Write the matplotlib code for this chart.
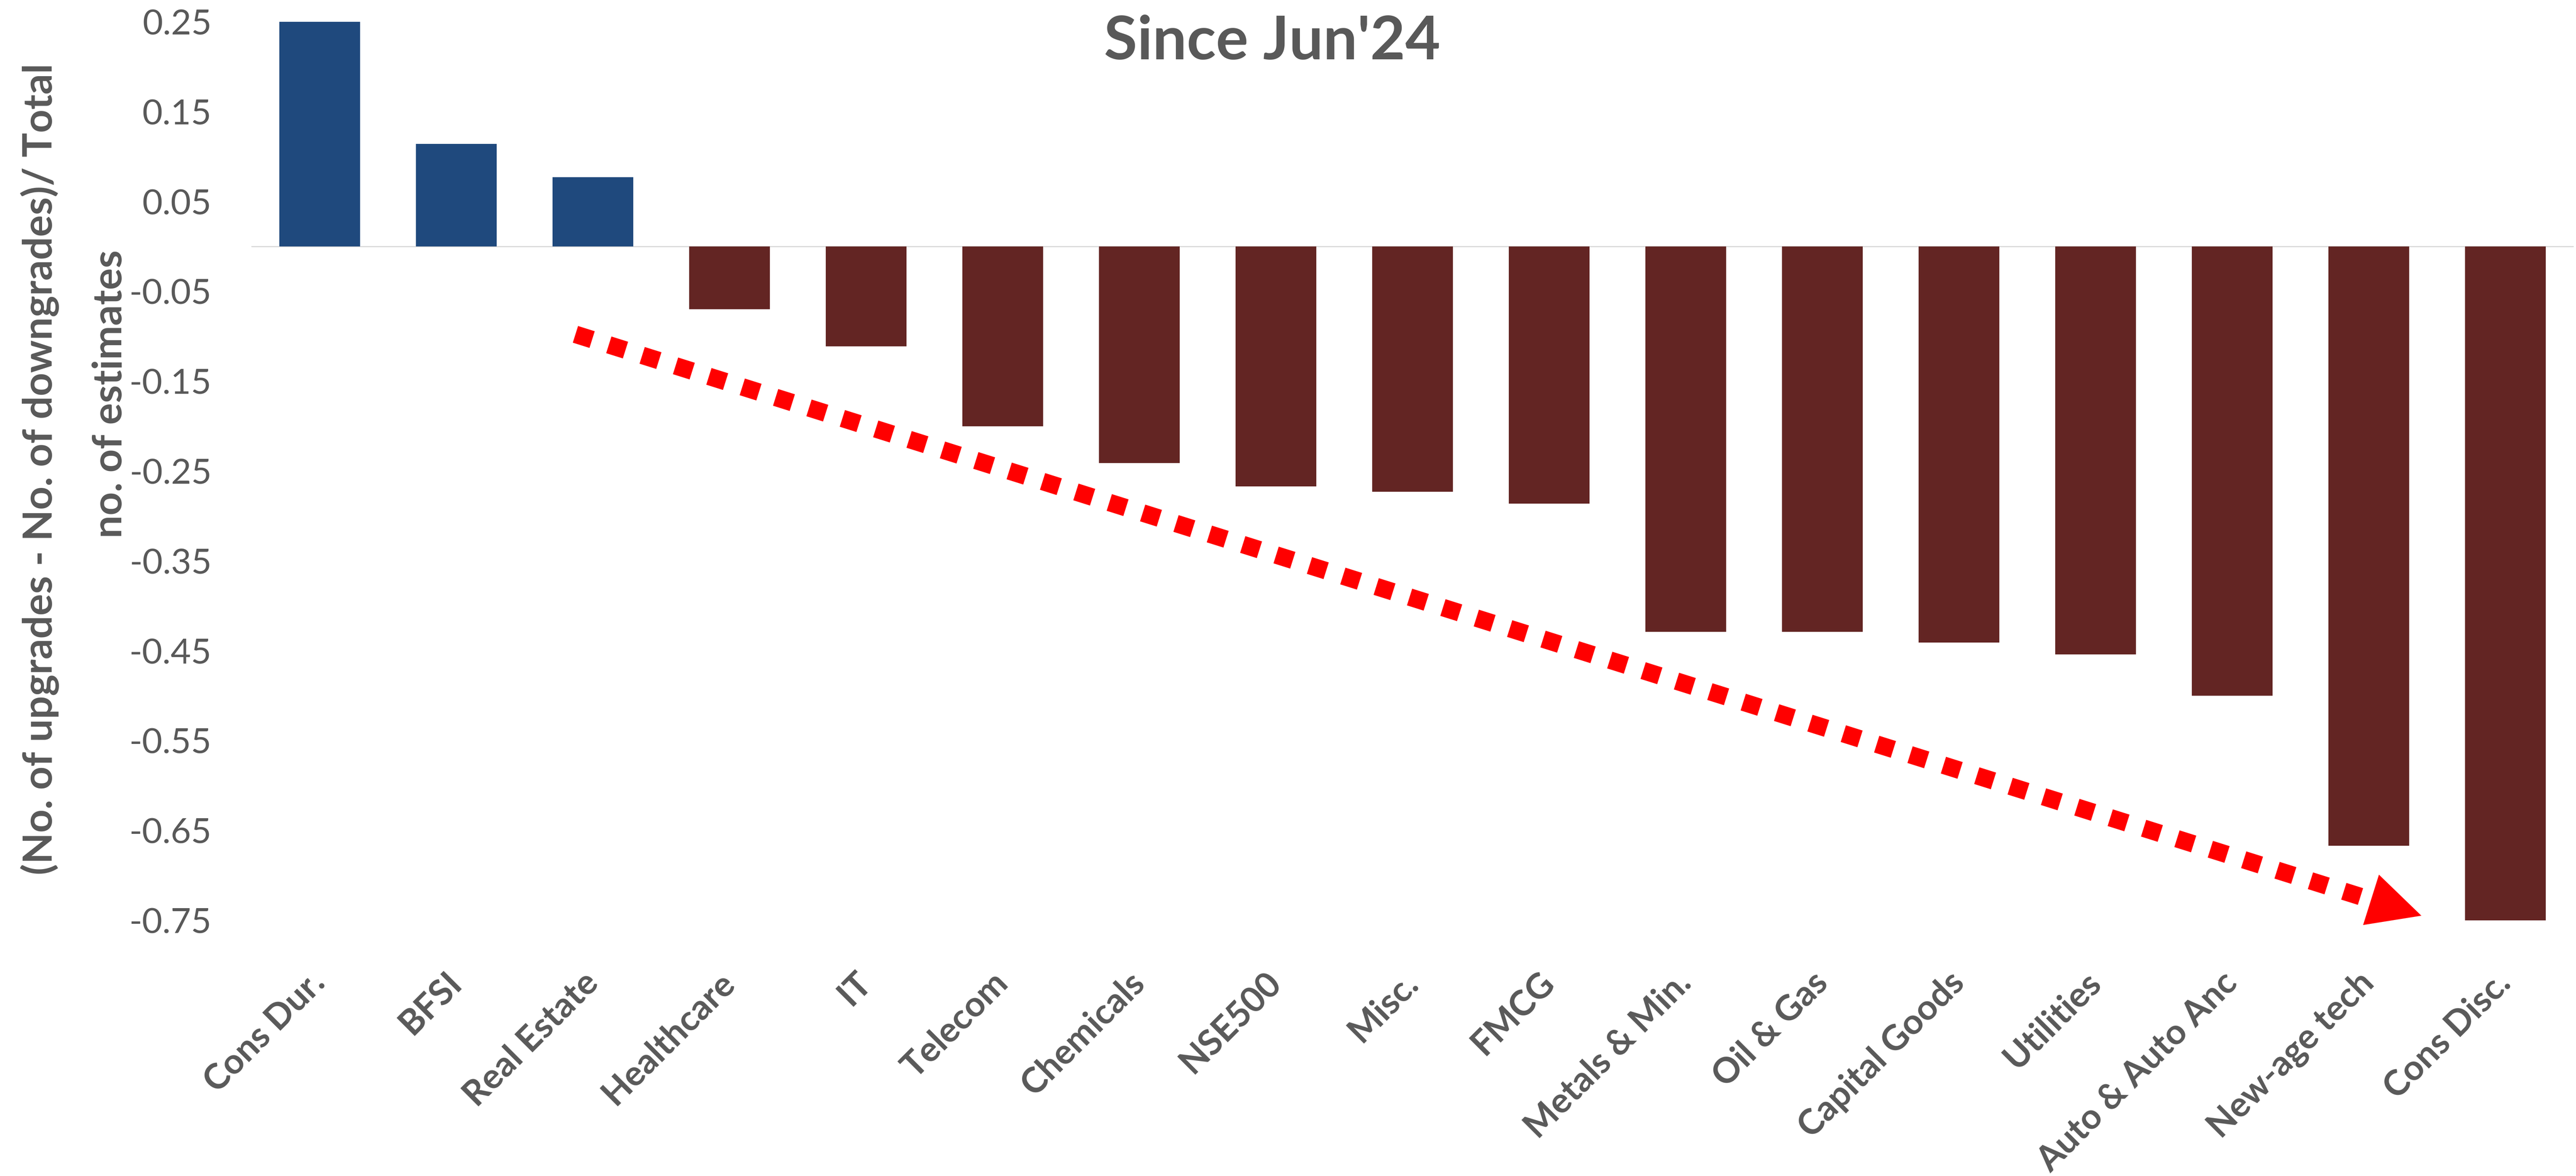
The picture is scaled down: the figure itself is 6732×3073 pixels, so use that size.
import matplotlib
matplotlib.use("Agg")
import matplotlib.pyplot as plt
import numpy as np
from matplotlib.patches import Polygon

plt.rcParams['font.family'] = ['Lato', 'DejaVu Sans']

categories = ["Cons Dur.", "BFSI", "Real Estate", "Healthcare", "IT", "Telecom",
              "Chemicals", "NSE500", "Misc.", "FMCG", "Metals & Min.", "Oil & Gas",
              "Capital Goods", "Utilities", "Auto & Auto Anc", "New-age tech", "Cons Disc."]
values = [0.250, 0.114, 0.077, -0.070, -0.111, -0.200, -0.241, -0.267, -0.273,
          -0.286, -0.429, -0.429, -0.441, -0.454, -0.500, -0.667, -0.750]
yticks = [0.25, 0.15, 0.05, -0.05, -0.15, -0.25, -0.35, -0.45, -0.55, -0.65, -0.75]
title = "Since Jun'24"
ylabel_1 = "(No. of upgrades - No. of downgrades)/ Total"
ylabel_2 = "no. of estimates"

BLUE = "#1F497D"
MAROON = "#632523"
GRAY = "#595959"

W, H = 6732, 3073
DPI = 300
fig = plt.figure(figsize=(W / DPI, H / DPI), dpi=DPI)
fig.patch.set_facecolor("white")

left, right = 657 / W, 6726 / W
bottom, top = 1 - 2405 / H, 1 - 57 / H
ax = fig.add_axes([left, bottom, right - left, top - bottom])

x = np.arange(len(categories))
colors = [BLUE if v >= 0 else MAROON for v in values]
ax.bar(x, values, width=0.59, color=colors, zorder=2)

ax.set_xlim(-0.5, len(categories) - 0.5)
ax.set_ylim(-0.75, 0.25)
ax.axhline(0, color="#D9D9D9", lw=0.7, zorder=1)

for s in ax.spines.values():
    s.set_visible(False)

ax.set_yticks(yticks)
ax.set_yticklabels([f"{t:.2f}" for t in yticks], fontsize=22, color=GRAY)
ax.tick_params(axis="y", length=0, pad=25)
ax.set_xticks(x)
ax.set_xticklabels(categories, rotation=45, ha="right", va="center",
                   rotation_mode="anchor", fontsize=22, color=GRAY, fontweight="bold")
ax.tick_params(axis="x", length=0, pad=36)

fig.text(3325 / W, 1 - 155 / H, title, ha="center", va="baseline",
         fontsize=38, fontweight="bold", color=GRAY)

fig.text(136 / W, 1 - 1226 / H, ylabel_1, rotation=90, rotation_mode="anchor",
         ha="center", va="baseline", fontsize=25.5, fontweight="bold", color=GRAY)
fig.text(318 / W, 1 - 1030 / H, ylabel_2, rotation=90, rotation_mode="anchor",
         ha="center", va="baseline", fontsize=25.5, fontweight="bold", color=GRAY)

# dotted trend arrow (annotation)
arrow_start = (1.872, -0.0978)
arrow_tip = (15.385, -0.7448)
p0 = ax.transData.transform(arrow_start)
p1 = ax.transData.transform(arrow_tip)
u = (p1 - p0) / np.linalg.norm(p1 - p0)
n = np.array([-u[1], u[0]])
head_len, head_w = 138.0, 138.0
base = p1 - u * head_len
inv = ax.transData.inverted()
line_end = inv.transform(base + u * 4)
ax.plot([arrow_start[0], line_end[0]], [arrow_start[1], line_end[1]],
        color="red", lw=10.97, linestyle=(0, (1, 1)), dash_capstyle="butt",
        solid_capstyle="butt", clip_on=False, zorder=3)
tri = inv.transform(np.array([p1, base + n * head_w / 2, base - n * head_w / 2]))
ax.add_patch(Polygon(tri, closed=True, facecolor="red", edgecolor="none",
                     clip_on=False, zorder=3))

fig.savefig("out.png", dpi=DPI, facecolor="white")
